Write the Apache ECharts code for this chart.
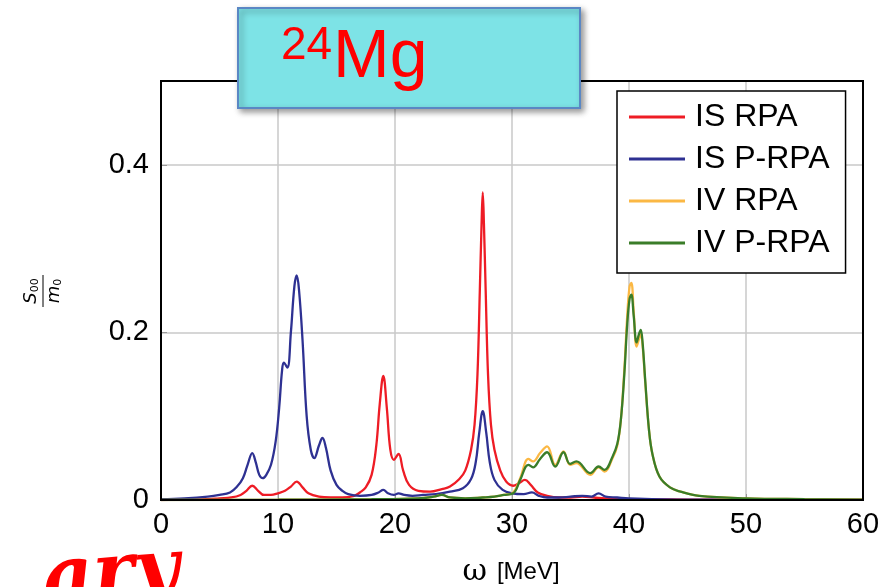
<!DOCTYPE html>
<html>
<head>
<meta charset="utf-8">
<title>24Mg strength</title>
<script src="https://cdn.jsdelivr.net/npm/echarts@6/dist/echarts.min.js"></script>
<style>
  html, body { margin: 0; padding: 0; background: #fff; }
  #chart { width: 894px; height: 587px; }
</style>
</head>
<body>
<div id="chart"></div>
<script>
// values: [omega (MeV), S00/m0]
const isRpa = [
  [0, 0], [2, 0.0005], [4, 0.001], [5, 0.002], [6, 0.003], [6.8, 0.006], [7.3, 0.011],
  [7.8, 0.017], [8.3, 0.011], [8.8, 0.006], [9.4, 0.006], [10.0, 0.008], [10.6, 0.011],
  [11.1, 0.016], [11.6, 0.022], [12.1, 0.015], [12.6, 0.008], [13.5, 0.004], [14.5, 0.003],
  [15.5, 0.003], [16.5, 0.005], [17.0, 0.009], [17.5, 0.015], [18.0, 0.03], [18.4, 0.065],
  [18.7, 0.115], [19.0, 0.148], [19.3, 0.11], [19.6, 0.06], [19.9, 0.048], [20.3, 0.055],
  [20.7, 0.035], [21.2, 0.018], [22.0, 0.011], [23.0, 0.01], [24.0, 0.013], [24.7, 0.016],
  [25.5, 0.025], [26.0, 0.035], [26.5, 0.06], [26.8, 0.09], [27.05, 0.15], [27.25, 0.25],
  [27.4, 0.33], [27.5, 0.367], [27.6, 0.33], [27.75, 0.25], [27.95, 0.15], [28.2, 0.09],
  [28.5, 0.06], [29.0, 0.035], [29.5, 0.022], [30.1, 0.017], [30.6, 0.02], [31.1, 0.024],
  [31.6, 0.018], [32.2, 0.009], [33, 0.005], [34, 0.003], [35, 0.003], [36, 0.004],
  [37, 0.003], [38, 0.002], [40, 0.001], [45, 0.0005], [50, 0.0003], [60, 0.0001]
]
const isPRpa = [
  [0, 0.001], [2, 0.002], [4, 0.004], [5, 0.006], [5.9, 0.009], [6.5, 0.016], [7.0, 0.026],
  [7.4, 0.042], [7.8, 0.056], [8.1, 0.045], [8.4, 0.03], [8.7, 0.026], [9.0, 0.03],
  [9.4, 0.042], [9.8, 0.07], [10.1, 0.11], [10.35, 0.155], [10.5, 0.164], [10.8, 0.158],
  [11.1, 0.2], [11.4, 0.255], [11.6, 0.268], [11.8, 0.25], [12.1, 0.19], [12.45, 0.1],
  [12.8, 0.06], [13.1, 0.05], [13.5, 0.065], [13.8, 0.074], [14.1, 0.062], [14.5, 0.035],
  [15.0, 0.018], [15.5, 0.011], [16, 0.007], [17, 0.005], [18, 0.006], [18.6, 0.009],
  [19.0, 0.012], [19.4, 0.008], [19.9, 0.006], [20.3, 0.008], [20.8, 0.006], [21.5, 0.005],
  [22.4, 0.006], [23.5, 0.007], [24.7, 0.01], [25.8, 0.014], [26.5, 0.025], [26.9, 0.045],
  [27.2, 0.08], [27.5, 0.106], [27.8, 0.08], [28.1, 0.045], [28.5, 0.024], [29.2, 0.012],
  [30, 0.008], [31, 0.007], [31.7, 0.009], [32.3, 0.005], [33, 0.003], [34, 0.003],
  [35, 0.004], [36, 0.005], [36.8, 0.004], [37.4, 0.008], [38, 0.004], [39, 0.003],
  [40, 0.002], [45, 0.0005], [60, 0.0001]
]
const ivRpa = [
  [0, 0], [10, 0.0003], [18, 0.001], [22, 0.002], [23.3, 0.004], [24.0, 0.006], [24.7, 0.003],
  [26, 0.002], [27.5, 0.003], [28.5, 0.004], [29.3, 0.006], [30.1, 0.009], [30.7, 0.026],
  [31.4, 0.049], [31.8, 0.046], [32.4, 0.056], [33.0, 0.064], [33.7, 0.042], [34.4, 0.058],
  [34.96, 0.042], [35.5, 0.044], [36.7, 0.03], [37.4, 0.039], [37.9, 0.034], [38.6, 0.05],
  [39.0, 0.065], [39.3, 0.095], [39.6, 0.155], [39.85, 0.22], [40.05, 0.255], [40.2, 0.259],
  [40.4, 0.225], [40.65, 0.183], [40.85, 0.192], [41.0, 0.198], [41.15, 0.186], [41.4, 0.138],
  [41.7, 0.085], [42.0, 0.055], [42.6, 0.028], [43.5, 0.015], [44.4, 0.01], [46, 0.005],
  [50, 0.002], [55, 0.001], [60, 0.0005]
]
const ivPRpa = [
  [0, 0], [10, 0.0003], [18, 0.001], [22, 0.002], [23.3, 0.004], [24.0, 0.006], [24.7, 0.003],
  [26, 0.002], [27.5, 0.003], [28.5, 0.004], [29.3, 0.006], [30.1, 0.008], [30.7, 0.024],
  [31.4, 0.042], [31.8, 0.039], [32.4, 0.049], [33.0, 0.057], [33.7, 0.04], [34.4, 0.057],
  [34.96, 0.043], [35.5, 0.046], [36.7, 0.032], [37.4, 0.04], [37.9, 0.036], [38.6, 0.052],
  [39.0, 0.067], [39.3, 0.095], [39.6, 0.15], [39.85, 0.21], [40.05, 0.24], [40.2, 0.245],
  [40.4, 0.22], [40.65, 0.188], [40.85, 0.198], [41.0, 0.203], [41.15, 0.19], [41.4, 0.14],
  [41.7, 0.085], [42.0, 0.055], [42.6, 0.028], [43.5, 0.015], [44.4, 0.01], [46, 0.005],
  [50, 0.002], [55, 0.001], [60, 0.0005]
]

const seriesNames = ['IS RPA', 'IS P-RPA', 'IV RPA', 'IV P-RPA']
const seriesData = [isRpa, isPRpa, ivRpa, ivPRpa]
const seriesColors = ['#ee1c25', '#2e3192', '#fbb844', '#3a7d29']
const yTickLabels = ['0', '0.2', '0.4']
const xTickLabels = ['0', '10', '20', '30', '40', '50', '60']

const font = 'Liberation Sans'
const gridBox = { left: 161, right: 31, top: 81, bottom: 87 }
const chart = echarts.init(document.getElementById('chart'))

chart.setOption({
  backgroundColor: '#fff',
  animation: false,
  grid: gridBox,
  legend: {
    data: seriesNames,
    orient: 'vertical',
    left: 617,
    top: 91,
    padding: [8, 16, 12, 12],
    itemGap: 6,
    itemWidth: 56,
    itemHeight: 3,
    icon: 'rect',
    backgroundColor: '#fff',
    borderColor: '#000',
    borderWidth: 1.5,
    textStyle: {
      fontFamily: font,
      fontSize: 32,
      lineHeight: 36,
      color: '#000',
      padding: [0, 0, 0, 5]
    }
  },
  xAxis: {
    type: 'value',
    min: 0,
    max: 60,
    interval: 10,
    axisLine: { show: true, lineStyle: { color: '#000', width: 2 } },
    axisTick: { show: true, inside: true, length: 6, lineStyle: { color: '#999' } },
    splitLine: { show: true, lineStyle: { color: '#c8c8c8', width: 1.5 } },
    axisLabel: {
      margin: 10,
      fontFamily: font,
      fontSize: 29,
      color: '#000',
      formatter: (v) => xTickLabels[Math.round(v / 10)]
    }
  },
  yAxis: {
    type: 'value',
    min: 0,
    max: 0.5,
    interval: 0.2,
    axisLine: { show: true, lineStyle: { color: '#000', width: 2 } },
    axisTick: { show: true, inside: true, length: 6, lineStyle: { color: '#999' } },
    splitLine: { show: true, lineStyle: { color: '#c8c8c8', width: 1.5 } },
    axisLabel: {
      margin: 12,
      fontFamily: font,
      fontSize: 29,
      color: '#000',
      showMaxLabel: false,
      formatter: (v) => yTickLabels[Math.round(v / 0.2)] || ''
    }
  },
  series: seriesNames.map((name, i) => ({
    name: name,
    type: 'line',
    data: seriesData[i],
    smooth: 0.4,
    showSymbol: false,
    symbol: 'none',
    color: seriesColors[i],
    lineStyle: { width: 2.3, color: seriesColors[i] },
    z: 2 + i
  })),
  graphic: [
    // black frame around the plot
    {
      type: 'rect',
      z: 50,
      shape: { x: 161, y: 81, width: 894 - 161 - 31, height: 587 - 81 - 87 },
      style: { fill: null, stroke: '#000', lineWidth: 2 }
    },
    // title box
    {
      type: 'rect',
      z: 100,
      shape: { x: 238, y: 8, width: 342, height: 100 },
      style: {
        fill: '#7de3e6',
        stroke: '#5a87c4',
        lineWidth: 2,
        shadowBlur: 6,
        shadowOffsetX: 3,
        shadowOffsetY: 3,
        shadowColor: 'rgba(0,0,0,0.4)'
      }
    },
    {
      type: 'text',
      z: 101,
      x: 281,
      y: 46,
      style: {
        text: '24',
        fill: '#ff0000',
        font: '46px "Liberation Sans"',
        verticalAlign: 'middle'
      }
    },
    {
      type: 'text',
      z: 101,
      x: 333,
      y: 58,
      style: {
        text: 'Mg',
        fill: '#ff0000',
        font: '68px "Liberation Sans"',
        verticalAlign: 'middle'
      }
    },
    // y axis label: S00 / m0
    {
      type: 'group',
      x: 43,
      y: 291,
      rotation: Math.PI / 2,
      children: [
        {
          type: 'line',
          shape: { x1: -16, y1: 0, x2: 16, y2: 0 },
          style: { stroke: '#000', lineWidth: 1 }
        },
        {
          type: 'text',
          x: 0,
          y: -2,
          style: {
            text: '{i|S}{s|00}',
            align: 'center',
            verticalAlign: 'bottom',
            rich: {
              i: { font: 'italic 18px "DejaVu Sans"', fill: '#000' },
              s: { font: '11px "DejaVu Sans"', fill: '#000', padding: [8, 0, 0, 0] }
            }
          }
        },
        {
          type: 'text',
          x: 0,
          y: 2,
          style: {
            text: '{i|m}{s|0}',
            align: 'center',
            verticalAlign: 'top',
            rich: {
              i: { font: 'italic 18px "DejaVu Sans"', fill: '#000' },
              s: { font: '11px "DejaVu Sans"', fill: '#000', padding: [8, 0, 0, 0] }
            }
          }
        }
      ]
    },
    // x axis name
    {
      type: 'text',
      x: 511,
      y: 572,
      style: {
        text: '{w|ω}   {u|[MeV]}',
        align: 'center',
        verticalAlign: 'middle',
        rich: {
          w: { font: '30px "DejaVu Serif"', fill: '#000' },
          u: { font: '24px "Liberation Sans"', fill: '#000' }
        }
      }
    },
    // red stamp, cut by the bottom edge
    {
      type: 'text',
      x: 40,
      y: 544,
      rotation: 0.08,
      style: {
        text: 'ary',
        fill: '#ff0000',
        font: 'italic bold 78px "DejaVu Serif"',
        verticalAlign: 'top'
      }
    }
  ]
})
</script>
</body>
</html>
